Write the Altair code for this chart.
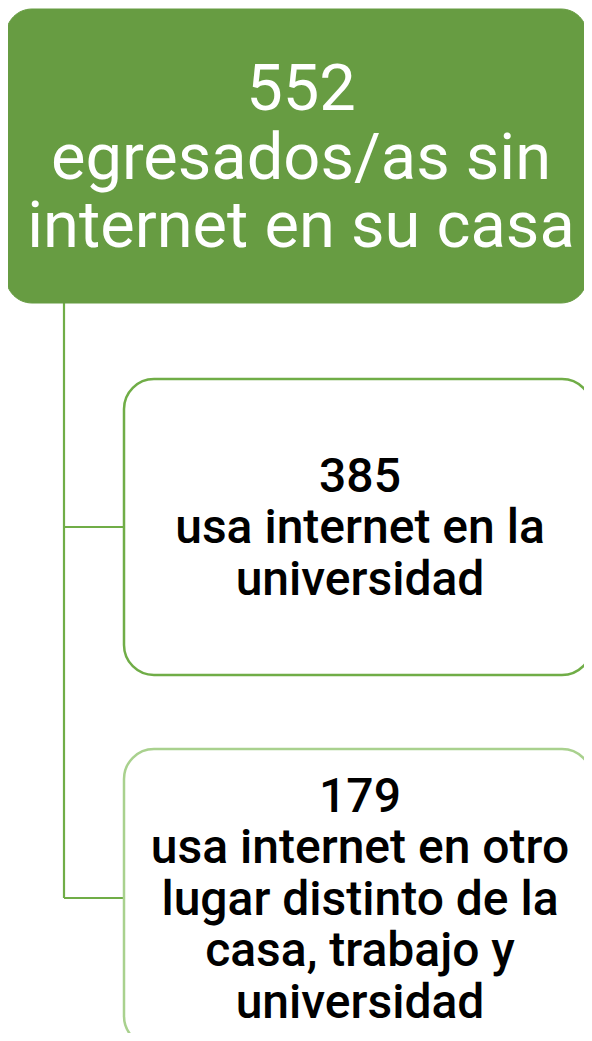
import altair as alt
import pandas as pd

# ---- content -------------------------------------------------------------
counts = [552, 385, 179]
descriptions = [
    ["egresados/as sin", "internet en su casa"],
    ["usa internet en la", "universidad"],
    ["usa internet en otro", "lugar distinto de la", "casa, trabajo y", "universidad"],
]
levels = ["root", "child", "child"]

# ---- layout (page pixels) ------------------------------------------------
PAGE_W, PAGE_H, MARGIN = 592, 1041, 8
VIEW_W = PAGE_W - 2 * MARGIN
VIEW_H = PAGE_H - 2 * MARGIN

box_x = [6, 124, 124]
box_x2 = [587, 592, 592]
box_y = [9, 379, 749]
box_y2 = [303, 675, 1046]
text_x = [301, 360, 360]
text_y = [110, 492, 812]
trunk_x = 64
branch_y = [527, 898]

GREEN_DARK = "#679C42"
GREEN = "#70AD47"
GREEN_LIGHT = "#A9D18E"

labels = [str(c) + "\n" + "\n".join(d) for c, d in zip(counts, descriptions)]

nodes = pd.DataFrame({
    "level": levels,
    "x": box_x, "x2": box_x2, "y": box_y, "y2": box_y2,
    "tx": text_x, "ty": text_y,
    "label": labels,
    "idx": [0, 1, 2],
})

xs = alt.Scale(domain=[MARGIN, MARGIN + VIEW_W], nice=False, zero=False)
ys = alt.Scale(domain=[MARGIN, MARGIN + VIEW_H], nice=False, zero=False, reverse=True)

def X(f):
    return alt.X(f, type="quantitative", scale=xs, axis=None)

def Y(f):
    return alt.Y(f, type="quantitative", scale=ys, axis=None)

base = alt.Chart(nodes)

root_box = base.transform_filter("datum.idx == 0").mark_rect(
    cornerRadius=26, fill=GREEN_DARK, stroke=GREEN_DARK, strokeWidth=1
).encode(x=X("x"), x2="x2", y=Y("y"), y2="y2")

box2 = base.transform_filter("datum.idx == 1").mark_rect(
    cornerRadius=30, fill="white", stroke=GREEN, strokeWidth=2.5
).encode(x=X("x"), x2="x2", y=Y("y"), y2="y2")

box3 = base.transform_filter("datum.idx == 2").mark_rect(
    cornerRadius=30, fill="white", stroke=GREEN_LIGHT, strokeWidth=2.5
).encode(x=X("x"), x2="x2", y=Y("y"), y2="y2")

links = pd.DataFrame({
    "x": [trunk_x, trunk_x, trunk_x],
    "x2": [trunk_x, box_x[1], box_x[2]],
    "y": [box_y2[0], branch_y[0], branch_y[1]],
    "y2": [branch_y[1], branch_y[0], branch_y[1]],
})
connectors = alt.Chart(links).mark_rule(
    color=GREEN, strokeWidth=2.2
).encode(x=X("x"), x2="x2", y=Y("y"), y2="y2")

root_text = base.transform_filter("datum.idx == 0").mark_text(
    font="Roboto", fontSize=65, fontWeight="normal", color="white",
    align="center", baseline="alphabetic", lineBreak="\n", lineHeight=68.5
).encode(x=X("tx"), y=Y("ty"), text="label:N")

child_text = base.transform_filter("datum.idx > 0").mark_text(
    font="Roboto", fontSize=48, fontWeight=500, color="black",
    align="center", baseline="alphabetic", lineBreak="\n", lineHeight=51.4
).encode(x=X("tx"), y=Y("ty"), text="label:N")

chart = alt.layer(
    connectors, root_box, box2, box3, root_text, child_text
).properties(
    width=VIEW_W, height=VIEW_H,
    autosize=alt.AutoSizeParams(type="none"),
    padding=0,
).configure_view(stroke=None)

chart.save("out.html", embed_options={"renderer": "svg", "actions": False})
